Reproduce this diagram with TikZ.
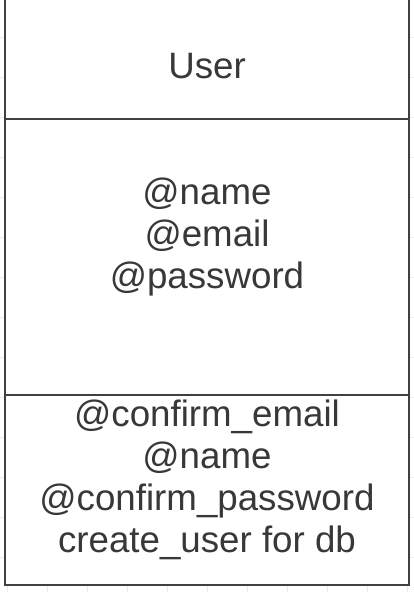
\documentclass[tikz,border=0pt]{standalone}
\usepackage{fontspec}
\setmainfont{Liberation Sans}
\definecolor{edge}{HTML}{404040}
\definecolor{ink}{HTML}{383838}
\definecolor{gridc}{HTML}{EBEBEB}
\begin{document}
\begin{tikzpicture}[x=1pt,y=-1pt,
  section/.style={draw=edge,line width=1.6pt,fill=white,inner sep=0pt,outer sep=0pt,anchor=north west},
  label/.style={text=ink,font=\fontsize{36.7}{42}\selectfont,anchor=base,inner sep=0pt}]
\useasboundingbox (0,0) rectangle (414,592);
\clip (0,0) rectangle (414,592);
\fill[white] (0,0) rectangle (414,592);
% background grid
\foreach \gx in {7,47,...,407} \draw[gridc,line width=0.8pt] (\gx,0) -- (\gx,592);
\foreach \gy in {37,77,...,597} \draw[gridc,line width=0.8pt] (0,\gy) -- (414,\gy);
% class sections
\node[section,minimum width=404pt,minimum height=129pt] (head) at (5,-10) {};
\node[section,minimum width=404pt,minimum height=276pt] (attrs) at (5,119) {};
\node[section,minimum width=404pt,minimum height=190pt] (meths) at (5,395) {};
% texts
\node[label] (t0) at (207,78) {User};
\node[label] (t1) at (207,204) {@name};
\node[label] (t2) at (207,246) {@email};
\node[label] (t3) at (207,288) {@password};
\node[label] (t4) at (207,426) {@confirm\_email};
\node[label] (t5) at (207,468) {@name};
\node[label] (t6) at (207,510) {@confirm\_password};
\node[label] (t7) at (207,552) {create\_user for db};
\end{tikzpicture}
\end{document}
